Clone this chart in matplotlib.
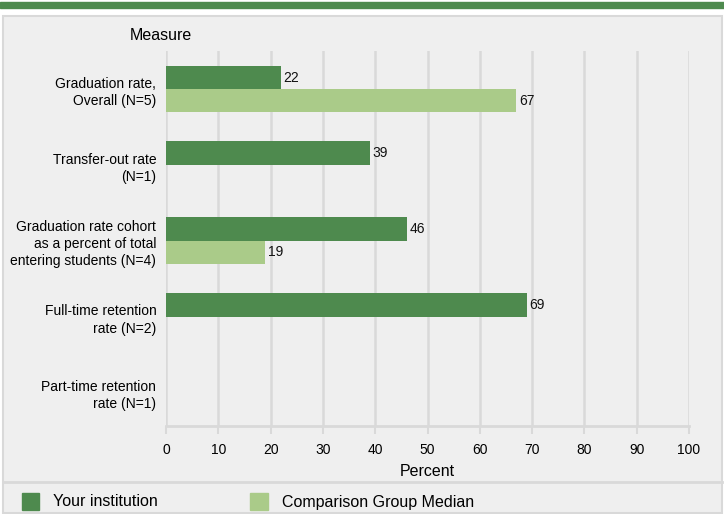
import matplotlib
matplotlib.use("Agg")
import matplotlib.pyplot as plt
from matplotlib.patches import Rectangle
from matplotlib.lines import Line2D

categories = ["Graduation rate,\nOverall (N=5)",
              "Transfer-out rate\n(N=1)",
              "Graduation rate cohort\nas a percent of total\nentering students (N=4)",
              "Full-time retention\nrate (N=2)",
              "Part-time retention\nrate (N=1)"]
your_inst = [22, 39, 46, 69, None]
comparison = [67, None, 19, None, None]
xticks = [0, 10, 20, 30, 40, 50, 60, 70, 80, 90, 100]

DARK = "#4e8a4e"
LIGHT = "#aacb89"
GRID = "#d9d9d9"
BG = "#efefef"

plt.rcParams['font.family'] = ['Liberation Sans', 'DejaVu Sans']
plt.rcParams['font.size'] = 10

W, H = 724, 514
fig = plt.figure(figsize=(W/100, H/100), dpi=100)
fig.patch.set_facecolor("white")

def fx(x): return x / W
def fy(y): return 1 - y / H

# top band
fig.patches.append(Rectangle((0, fy(7.5)), 1, 5.5/H, transform=fig.transFigure,
                             color=DARK, zorder=0))
# panel
fig.patches.append(Rectangle((fx(3), fy(513)), fx(719), 497/H, transform=fig.transFigure,
                             facecolor=BG, edgecolor=GRID, linewidth=1.5, zorder=0))
# separator
fig.lines.append(Line2D([fx(3), fx(722)], [fy(482), fy(482)], transform=fig.transFigure,
                        color=GRID, linewidth=2, zorder=1))

ax = fig.add_axes([fx(166), fy(426), fx(689) - fx(166), (426 - 50.7) / H])
ax.set_zorder(3)
ax.patch.set_alpha(0)

bh_d = 0.315
bh_l = 0.30
for i, (a, b) in enumerate(zip(your_inst, comparison)):
    if a is not None:
        ax.barh(i - bh_d, a, height=bh_d, align='edge', color=DARK, zorder=3)
        ax.text(a + 0.5, i - bh_d / 2, str(a), va='center', ha='left', fontsize=10,
                color='#111111', zorder=4)
    if b is not None:
        ax.barh(i, b, height=bh_l, align='edge', color=LIGHT, zorder=3)
        ax.text(b + 0.5, i + bh_l / 2, str(b), va='center', ha='left', fontsize=10,
                color='#111111', zorder=4)

ax.set_xlim(0, 100)
ax.set_ylim(4.442, -0.512)
ax.set_xticks(xticks)
ax.set_xticklabels([str(t) for t in xticks])
ax.set_yticks(range(len(categories)))
ax.set_yticklabels(categories, linespacing=1.3)
ax.tick_params(axis='y', length=0, pad=7)
ax.tick_params(axis='x', length=6, width=1.5, color=GRID, pad=6.5, labelsize=10)
ax.grid(axis='x', color=GRID, linewidth=1.8, zorder=0)
for s in ['top', 'right', 'left']:
    ax.spines[s].set_visible(False)
ax.spines['bottom'].set_color(GRID)
ax.spines['bottom'].set_linewidth(2)
ax.set_xlabel("Percent", fontsize=11.5, labelpad=4.5)

fig.text(fx(160.5), fy(36), "Measure", ha='center', va='center', fontsize=11.5)

# legend
fig.patches.append(Rectangle((fx(22), fy(510)), fx(17), 17/H, transform=fig.transFigure,
                             color=DARK, zorder=2))
fig.text(fx(53), fy(502), "Your institution", ha='left', va='center', fontsize=11.5)
fig.patches.append(Rectangle((fx(250), fy(510)), fx(18), 17/H, transform=fig.transFigure,
                             color=LIGHT, zorder=2))
fig.text(fx(282), fy(502), "Comparison Group Median", ha='left', va='center', fontsize=11.5)

fig.savefig("out.png", dpi=100, facecolor=fig.get_facecolor())
